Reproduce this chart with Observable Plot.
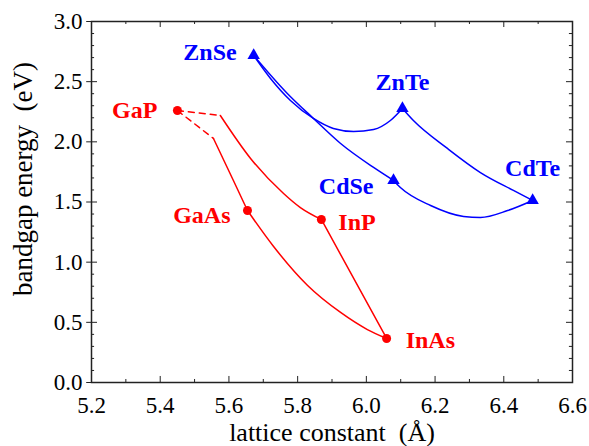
<!DOCTYPE html>
<html><head><meta charset="utf-8">
<script src="https://cdn.jsdelivr.net/npm/d3@7"></script>
<script src="https://cdn.jsdelivr.net/npm/@observablehq/plot@0.6"></script>
<style>body{margin:0;background:#fff}</style>
</head><body><div id="chart"></div>
<script>
// Binary compounds
const compounds = ["GaP", "GaAs", "InP", "InAs", "ZnSe", "ZnTe", "CdSe", "CdTe"];
const lattice   = [5.450, 5.654, 5.869, 6.059, 5.672, 6.105, 6.079, 6.484];
const bandgap   = [2.260, 1.429, 1.355, 0.366, 2.718, 2.277, 1.679, 1.513];
const family    = ["III-V", "III-V", "III-V", "III-V", "II-VI", "II-VI", "II-VI", "II-VI"];

// Ternary alloy curves
const gapGaAsP_x = [5.450, 5.555];            // indirect part (dashed)
const gapGaAsP_y = [2.260, 2.028];
const gapGaInP_x = [5.450, 5.575];            // indirect part (dashed)
const gapGaInP_y = [2.260, 2.219];
const gaasp_x = [5.555, 5.613, 5.654];
const gaasp_y = [2.028, 1.679, 1.429];
const gainp_x = [5.575, 5.663, 5.759, 5.808, 5.869];
const gainp_y = [2.219, 1.862, 1.571, 1.454, 1.355];
const ingaas_x = [5.654, 5.730, 5.829, 5.925, 6.003, 6.059];
const ingaas_y = [1.429, 1.130, 0.806, 0.582, 0.440, 0.366];
const inasp_x = [5.869, 6.059];
const inasp_y = [1.355, 0.366];
const znsete_x = [5.672, 5.721, 5.779, 5.846, 5.904, 5.963, 6.021, 6.070, 6.105];
const znsete_y = [2.718, 2.527, 2.344, 2.194, 2.111, 2.086, 2.103, 2.177, 2.277];
const zncdse_x = [5.672, 5.770, 5.846, 5.925, 6.021, 6.079];
const zncdse_y = [2.718, 2.402, 2.194, 1.986, 1.787, 1.679];
const zncdte_x = [6.105, 6.137, 6.236, 6.332, 6.428, 6.484];
const zncdte_y = [2.277, 2.177, 1.945, 1.745, 1.596, 1.513];
const cdsete_x = [6.079, 6.099, 6.187, 6.283, 6.332, 6.411, 6.484];
const cdsete_y = [1.679, 1.621, 1.471, 1.380, 1.371, 1.429, 1.513];

// Axis ticks
const xTicks = [5.2, 5.4, 5.6, 5.8, 6.0, 6.2, 6.4, 6.6];
const xMinor = [5.3, 5.5, 5.7, 5.9, 6.1, 6.3, 6.5];
const yTicks = [0.0, 0.5, 1.0, 1.5, 2.0, 2.5, 3.0];
const yMinor = [0.1,0.2,0.3,0.4,0.6,0.7,0.8,0.9,1.1,1.2,1.3,1.4,1.6,1.7,1.8,1.9,2.1,2.2,2.3,2.4,2.6,2.7,2.8,2.9];
const xLabel = "lattice constant\u00a0\u00a0(Å)";
const yLabel = "bandgap energy\u00a0\u00a0(eV)";

const RED = "#ff0000", BLUE = "#0000ff";
const SERIF = "'Liberation Serif', 'Times New Roman', serif";
const pts = (xs, ys) => xs.map((x, i) => ({x, y: ys[i]}));
const binaries = compounds.map((c, i) => ({name: c, x: lattice[i], y: bandgap[i], fam: family[i]}));
const find = n => binaries.filter(d => d.name === n);

const curve = (xs, ys, color, dash) => Plot.line(pts(xs, ys), {
  x: "x", y: "y", stroke: color, strokeWidth: 1.5, curve: "monotone-x",
  strokeDasharray: dash ? "6,5" : null
});

const lab = (n, color, anchor, dx, dy) => Plot.text(find(n), {
  x: "x", y: "y", text: "name", fill: color, fontWeight: "bold", fontSize: 24,
  fontFamily: SERIF, textAnchor: anchor, dx, dy
});

// tick lengths in data units (~6px major, ~3px minor)
const tx = 0.0175, ty = 0.05, txm = 0.009, tym = 0.025;

const plot = Plot.plot({
  width: 589, height: 446,
  marginLeft: 91, marginRight: 17, marginTop: 21, marginBottom: 64,
  x: {domain: [5.2, 6.6], axis: null},
  y: {domain: [0, 3.0], axis: null},
  style: {fontFamily: SERIF, background: "white", color: "black"},
  marks: [
    // inward ticks
    Plot.ruleX(xTicks, {x: d => d, y1: 0, y2: ty, stroke: "#222"}),
    Plot.ruleX(xMinor, {x: d => d, y1: 0, y2: tym, stroke: "#222"}),
    Plot.ruleX(xTicks, {x: d => d, y1: 3.0, y2: 3.0 - ty, stroke: "#222"}),
    Plot.ruleX(xMinor, {x: d => d, y1: 3.0, y2: 3.0 - tym, stroke: "#222"}),
    Plot.ruleY(yTicks, {y: d => d, x1: 5.2 - 0.014, x2: 5.2 + tx, stroke: "#222"}),
    Plot.ruleY(yMinor, {y: d => d, x1: 5.2, x2: 5.2 + txm, stroke: "#222"}),
    Plot.ruleY(yTicks, {y: d => d, x1: 6.6, x2: 6.6 - tx, stroke: "#222"}),
    Plot.ruleY(yMinor, {y: d => d, x1: 6.6, x2: 6.6 - txm, stroke: "#222"}),
    Plot.frame({stroke: "#222", strokeWidth: 1.5}),
    // tick labels
    Plot.text(xTicks, {x: d => d, y: 0, text: d => d.toFixed(1), dy: 23, fontSize: 23, fontFamily: SERIF, fill: "black", lineAnchor: "middle"}),
    Plot.text(yTicks, {x: 5.2, y: d => d, text: d => d.toFixed(1), dx: -9, fontSize: 23, fontFamily: SERIF, fill: "black", textAnchor: "end", lineAnchor: "middle"}),
    // axis titles
    Plot.text([xLabel], {frameAnchor: "bottom", dy: 50, fontSize: 26, fontFamily: SERIF, lineAnchor: "middle", textAnchor: "middle"}),
    Plot.text([yLabel], {frameAnchor: "left", rotate: -90, dx: -68, dy: -23, fontSize: 27, fontFamily: SERIF, textAnchor: "middle"}),
    // curves
    curve(gapGaAsP_x, gapGaAsP_y, RED, true),
    curve(gapGaInP_x, gapGaInP_y, RED, true),
    curve(gaasp_x, gaasp_y, RED),
    curve(gainp_x, gainp_y, RED),
    curve(ingaas_x, ingaas_y, RED),
    curve(inasp_x, inasp_y, RED),
    curve(znsete_x, znsete_y, BLUE),
    curve(zncdse_x, zncdse_y, BLUE),
    curve(zncdte_x, zncdte_y, BLUE),
    curve(cdsete_x, cdsete_y, BLUE),
    // markers
    Plot.dot(binaries.filter(d => d.fam === "III-V"), {x: "x", y: "y", r: 4.5, fill: RED, stroke: null}),
    Plot.dot(binaries.filter(d => d.fam === "II-VI"), {x: "x", y: "y", r: 4.6, symbol: "triangle", fill: BLUE, stroke: null}),
    // labels
    lab("GaP", RED, "end", -20, 0),
    lab("GaAs", RED, "end", -17, 5),
    lab("InP", RED, "start", 17, 3),
    lab("InAs", RED, "start", 19, 2),
    lab("ZnSe", BLUE, "end", -17, -3),
    lab("ZnTe", BLUE, "middle", 0, -26),
    lab("CdSe", BLUE, "end", -20, 6),
    lab("CdTe", BLUE, "middle", 0, -32)
  ]
});
document.getElementById("chart").appendChild(plot);
</script>
</body></html>
